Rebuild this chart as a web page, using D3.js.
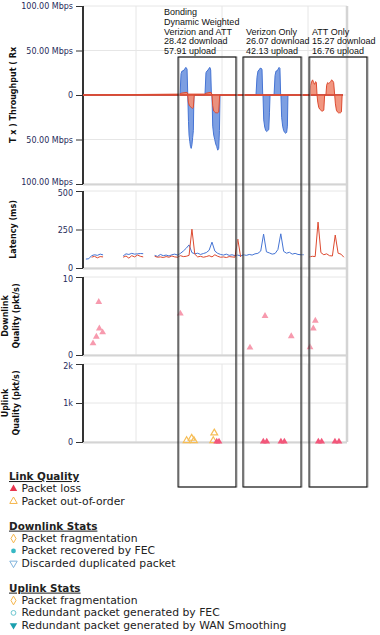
<!DOCTYPE html>
<html>
<head>
<meta charset="utf-8">
<script src="https://cdn.jsdelivr.net/npm/d3@7"></script>
<style>
  body { margin: 0; background: #fff; }
  svg { display: block; }
</style>
</head>
<body>
<div id="chart"></div>
<script>
// time in seconds from start of the capture, values in Mbps / ms / pkt/s
const timeDomain = [0, 1842];
const gridTimes = [370, 970, 1570];

const verizonRx = [[0,0],[677,0],[684,24],[691,27],[698,27],[705,28],[712,30],[719,31],[726,29],[731,0],
  [851,0],[858,25],[865,27],[872,28],[879,30],[886,31],[891,28],[896,0],
  [1207,0],[1214,20],[1221,27],[1228,28],[1235,30],[1242,30],[1249,29],[1254,0],
  [1333,0],[1340,22],[1347,27],[1354,27],[1361,29],[1368,31],[1374,30],[1379,0],[1814,0]];
const verizonTx = [[0,0],[731,0],[736,30],[740,45],[745,52],[750,58],[755,60],[760,56],[765,48],[770,40],[774,0],
  [900,0],[905,35],[912,45],[919,50],[926,55],[933,58],[940,62],[947,60],[952,40],[956,0],
  [1256,0],[1261,28],[1268,36],[1275,40],[1282,41],[1289,40],[1296,39],[1301,20],[1305,0],
  [1381,0],[1386,25],[1393,35],[1400,40],[1407,42],[1414,43],[1421,42],[1426,35],[1430,0],[1814,0]];
const attRx = [[0,0],[677,1],[684,2],[726,3],[731,1],[851,1],[858,2],[893,3],[898,1],[912,0],
  [1584,0],[1588,11],[1595,15],[1602,17],[1609,14],[1616,12],[1623,15],[1628,14],[1633,0],
  [1695,0],[1700,11],[1707,14],[1714,13],[1721,14],[1728,15],[1735,17],[1742,16],[1749,14],[1756,0],[1814,0]];
const attTx = [[0,0],[731,0],[735,8],[742,12],[749,13],[756,14],[763,15],[770,14],[776,0],
  [900,0],[905,12],[912,18],[919,19],[926,20],[933,20],[940,20],[947,19],[954,0],
  [1633,0],[1638,8],[1645,14],[1652,16],[1659,17],[1666,18],[1673,18],[1680,17],[1686,0],
  [1756,0],[1761,10],[1768,17],[1775,19],[1782,20],[1789,20],[1796,20],[1803,19],[1808,0],[1814,0]];

const latencyTime = d3.range(0, 1842, 20);
const _ = null;
const latencyVerizon = [_,58,60,80,86,82,90,85,_,_,_,_,_,_,78,92,88,95,90,92,94,93,_,_,_,
  82,75,88,80,84,78,86,90,84,95,110,128,150,100,92,96,88,94,100,115,168,110,95,88,84,90,82,86,80,84,78,
  86,82,88,84,92,95,110,220,105,98,90,94,120,222,108,96,102,90,95,88,86,86,
  _,_,_,_,_,_,_,_,_,_,_,_,_,_,_];
const latencyAtt = [_,_,_,70,76,66,74,72,_,_,_,_,_,_,70,78,64,80,72,84,76,72,_,_,_,
  76,70,72,68,74,70,78,72,70,80,74,76,82,252,90,72,76,70,74,80,72,86,76,70,72,68,74,72,70,188,72,
  _,_,_,_,_,_,_,_,_,_,_,_,_,_,_,_,_,_,_,_,_,_,_,
  72,76,74,298,100,86,92,80,78,214,96,90,70,_];

const downlinkLoss = [[70,1.5],[93,2.35],[110,6.8],[114,3.4],[137,2.9],[679,5.3],[1165,0.95],
  [1270,5.0],[1453,2.4],[1584,1.0],[1607,3.4],[1621,4.4]];
const uplinkOutOfOrder = [[723,10],[758,70],[774,10],[909,10],[916,205]];
const uplinkLoss = [[933,10],[949,10],[1258,10],[1282,10],[1381,10],[1405,10],[1642,10],[1665,10],[1758,10],[1786,10]];

const windowStart = [663, 1116, 1577];
const windowEnd = [1067, 1521, 1981];
const windowLabels = [
  ['Bonding', 'Dynamic Weighted', 'Verizion and ATT', '28.42 download', '57.91 upload'],
  ['Verizon Only', '26.07 download', '42.13 upload'],
  ['ATT Only', '15.27 download', '16.76 upload']
];

const legendGroups = [
  { title: 'Link Quality', items: [
    { label: 'Packet loss', shape: 'triangle', fill: '#e8364f', stroke: 'none' },
    { label: 'Packet out-of-order', shape: 'triangle', fill: 'none', stroke: '#f5b54a' }] },
  { title: 'Downlink Stats', items: [
    { label: 'Packet fragmentation', shape: 'diamond', fill: 'none', stroke: '#f5b54a' },
    { label: 'Packet recovered by FEC', shape: 'circle', fill: '#36b8c4', stroke: 'none' },
    { label: 'Discarded duplicated packet', shape: 'down', fill: 'none', stroke: '#7fb3dc' }] },
  { title: 'Uplink Stats', items: [
    { label: 'Packet fragmentation', shape: 'diamond', fill: 'none', stroke: '#f5b54a' },
    { label: 'Redundant packet generated by FEC', shape: 'circle', fill: 'none', stroke: '#6cc6cf' },
    { label: 'Redundant packet generated by WAN Smoothing', shape: 'down', fill: '#1a9fae', stroke: 'none' }] }
];

const width = 380, height = 635;
const left = 83, right = 347;
const tickColor = '#1f2a5a';
const blue = '#4574d4', blueFill = '#7d9fe2';
const red = '#dd4a30', redFill = '#f09079';

const svg = d3.select('#chart').append('svg')
  .attr('width', width)
  .attr('height', height)
  .style('font-family', 'DejaVu Sans, Verdana, sans-serif');

const x = d3.scaleLinear().domain(timeDomain).range([left, right]);

const panels = [
  { top: 6, bottom: 184, domain: [-100, 100], ticks: [100, 50, 0, -50, -100],
    fmt: d => d === 0 ? '0' : Math.abs(d).toFixed(2) + ' Mbps', title: ['T x ) Throughput ( Rx'] },
  { top: 191, bottom: 268, domain: [0, 500], ticks: [500, 250, 0], fmt: d => d, title: ['Latency (ms)'] },
  { top: 277, bottom: 355, domain: [0, 10], ticks: [10, 0], fmt: d => d, title: ['Downlink', 'Quality (pkt/s)'] },
  { top: 364, bottom: 442, domain: [0, 2000], ticks: [2000, 1000, 0], fmt: d => d === 0 ? '0' : (d / 1000) + 'k',
    title: ['Uplink', 'Quality (pkt/s)'] }
];

panels.forEach((p, pi) => {
  p.y = d3.scaleLinear().domain(p.domain).range([p.bottom, p.top]);
  const g = svg.append('g');

  // grid
  g.selectAll('.hgrid').data(p.ticks).enter().append('line')
    .attr('x1', left).attr('x2', right)
    .attr('y1', d => p.y(d)).attr('y2', d => p.y(d))
    .attr('stroke', '#e6e6e6');
  g.selectAll('.vgrid').data(gridTimes).enter().append('line')
    .attr('x1', d => x(d)).attr('x2', d => x(d))
    .attr('y1', p.top).attr('y2', p.bottom)
    .attr('stroke', '#e6e6e6');
  g.append('line')
    .attr('x1', left).attr('x2', right)
    .attr('y1', p.bottom + 0.5).attr('y2', p.bottom + 0.5)
    .attr('stroke', '#d4d4d4').attr('stroke-width', 2);

  const axis = d3.axisLeft(p.y).tickValues(p.ticks).tickFormat(p.fmt).tickSize(7).tickPadding(3);
  const ax = g.append('g').attr('transform', `translate(${left},0)`).call(axis);
  ax.select('.domain').attr('stroke', '#000').attr('stroke-width', 1.6).attr('d', `M0,${p.top}V${p.bottom}`);
  ax.selectAll('.tick line').attr('stroke', '#333');
  ax.selectAll('.tick text').attr('fill', tickColor).style('font-size', '8px')
    .style('font-family', 'DejaVu Sans, Verdana, sans-serif');
  // the end labels of neighbouring panels sit very close; nudge them apart a little
  ax.selectAll('.tick text').filter(d => d === p.domain[0] && pi === 0).attr('dy', '0.1em');
  ax.selectAll('.tick text').filter(d => d === p.domain[1] && pi > 0).attr('dy', '0.5em');

  const cy = (p.top + p.bottom) / 2;
  const n = p.title.length;
  p.title.forEach((t, i) => {
    const tx = n === 1 ? 16 : 8 + i * 11;
    svg.append('text')
      .attr('transform', `translate(${tx},${cy}) rotate(-90)`)
      .attr('text-anchor', 'middle')
      .style('font-size', '8px').style('font-weight', 'bold')
      .attr('fill', '#111')
      .text(t);
  });
});

// right frame edge
svg.append('line')
  .attr('x1', right).attr('x2', right).attr('y1', panels[0].top).attr('y2', panels[3].bottom)
  .attr('stroke', '#d4d4d4').attr('stroke-width', 2.5);

// throughput
const tp = panels[0];
const areaUp = d3.area().x(d => x(d[0])).y0(tp.y(0)).y1(d => tp.y(d[1]));
const areaDown = d3.area().x(d => x(d[0])).y0(tp.y(0)).y1(d => tp.y(-d[1]));
const lineUp = d3.line().x(d => x(d[0])).y(d => tp.y(d[1]));
const lineDown = d3.line().x(d => x(d[0])).y(d => tp.y(-d[1]));

[[verizonRx, areaUp, lineUp], [verizonTx, areaDown, lineDown]].forEach(([data, a, l]) => {
  svg.append('path').attr('d', a(data)).attr('fill', blueFill);
  svg.append('path').attr('d', l(data)).attr('fill', 'none').attr('stroke', blue).attr('stroke-width', 1);
});
[[attRx, areaUp, lineUp], [attTx, areaDown, lineDown]].forEach(([data, a, l]) => {
  svg.append('path').attr('d', a(data)).attr('fill', redFill).attr('fill-opacity', 0.95);
  svg.append('path').attr('d', l(data)).attr('fill', 'none').attr('stroke', red).attr('stroke-width', 1);
});
svg.append('line')
  .attr('x1', x(0)).attr('x2', x(1814)).attr('y1', tp.y(0)).attr('y2', tp.y(0))
  .attr('stroke', red).attr('stroke-width', 1.6);

// latency
const lp = panels[1];
const latLine = d3.line().defined(d => d[1] !== null).x(d => x(d[0])).y(d => lp.y(d[1]));
svg.append('path').attr('d', latLine(d3.zip(latencyTime, latencyVerizon)))
  .attr('fill', 'none').attr('stroke', blue).attr('stroke-width', 1);
svg.append('path').attr('d', latLine(d3.zip(latencyTime, latencyAtt)))
  .attr('fill', 'none').attr('stroke', red).attr('stroke-width', 1);

// quality markers
const tri = d3.symbol().type(d3.symbolTriangle).size(20);
const dp = panels[2], up = panels[3];
svg.selectAll('.dl').data(downlinkLoss).enter().append('path')
  .attr('d', tri).attr('transform', d => `translate(${x(d[0])},${dp.y(d[1])})`)
  .attr('fill', '#f79aae');
svg.selectAll('.ulo').data(uplinkOutOfOrder).enter().append('path')
  .attr('d', tri).attr('transform', d => `translate(${x(d[0])},${up.y(d[1]) - 1})`)
  .attr('fill', 'none').attr('stroke', '#f6bd55').attr('stroke-width', 1.2);
svg.selectAll('.ull').data(uplinkLoss).enter().append('path')
  .attr('d', tri).attr('transform', d => `translate(${x(d[0])},${up.y(d[1])})`)
  .attr('fill', '#f2577a');

// test windows
windowStart.forEach((s, i) => {
  const x0 = x(s), x1 = x(windowEnd[i]);
  svg.append('rect').attr('x', x0 + 1).attr('y', 57).attr('width', x1 - x0).attr('height', 430)
    .attr('fill', 'none').attr('stroke', '#999').attr('stroke-width', 1);
  svg.append('rect').attr('x', x0).attr('y', 57).attr('width', x1 - x0).attr('height', 430)
    .attr('fill', 'none').attr('stroke', '#111').attr('stroke-width', 1);
  const lines = windowLabels[i];
  const lx = i === 0 ? x0 - 14 : x0 + 3;
  svg.append('text')
    .attr('x', lx).attr('y', 54 - (lines.length - 1) * 9.7)
    .style('font-family', 'Liberation Sans, Arial, sans-serif').style('font-size', '9px')
    .attr('fill', '#111')
    .selectAll('tspan').data(lines).enter().append('tspan')
    .attr('x', lx).attr('dy', (d, j) => j === 0 ? 0 : 9.7)
    .text(d => d);
});

// legend
const sym = {
  triangle: d3.symbol().type(d3.symbolTriangle).size(24)(),
  diamond: d3.symbol().type(d3.symbolDiamond).size(22)(),
  circle: d3.symbol().type(d3.symbolCircle).size(18)(),
  down: d3.symbol().type(d3.symbolTriangle).size(24)()
};
let ly = 480;
legendGroups.forEach(grp => {
  svg.append('text').attr('x', 9).attr('y', ly)
    .style('font-size', '10.4px').style('font-weight', 'bold')
    .style('text-decoration', 'underline').attr('fill', '#222')
    .text(grp.title);
  ly += 12.4;
  grp.items.forEach(it => {
    svg.append('path').attr('d', sym[it.shape])
      .attr('transform', `translate(13.5,${ly - 3.5})` + (it.shape === 'down' ? ' rotate(180)' : ''))
      .attr('fill', it.fill).attr('stroke', it.stroke).attr('stroke-width', 1);
    svg.append('text').attr('x', 21.5).attr('y', ly)
      .style('font-size', '10.8px').attr('fill', '#222')
      .text(it.label);
    ly += 12.4;
  });
  ly += 12.4;
});
</script>
</body>
</html>
